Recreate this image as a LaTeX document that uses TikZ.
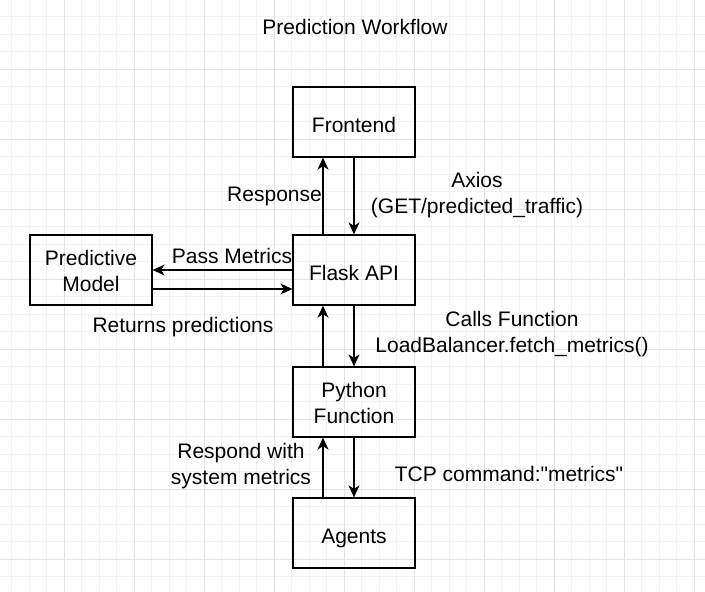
\documentclass[tikz,border=0pt]{standalone}
\usepackage{fontspec}
\setmainfont{Liberation Sans}
\usetikzlibrary{arrows.meta}

\definecolor{gridminor}{HTML}{F2F2F2}
\definecolor{gridmajor}{HTML}{E3E3E3}

\newcommand{\liftline}{\rule{0pt}{17pt}}

\tikzset{
    boxbase/.style={draw, line width=1.3pt, minimum width=122pt, minimum height=70pt,
        align=center, inner sep=0pt, font=\fontsize{21}{26}\selectfont},
    box/.style={boxbase,
        execute at begin node={\rule{0pt}{25pt}},
        execute at end node={\rule[-5pt]{0pt}{5pt}}},
    tallbox/.style={boxbase},
    lbl/.style={align=center, inner sep=0pt, font=\fontsize{21}{26}\selectfont},
    flow/.style={line width=1.3pt, -{Stealth[length=12pt,width=11pt,inset=3.5pt]}}
}

\begin{document}
\begin{tikzpicture}[x=1pt,y=-1pt]
    \useasboundingbox (0,0) rectangle (705,592);
    \fill[white] (0,0) rectangle (705,592);

    % grid
    \foreach \i in {0,...,41} {
        \draw[gridminor, line width=0.8pt] ({-6+17.5*\i},0) -- ({-6+17.5*\i},592);
    }
    \foreach \i in {0,...,34} {
        \draw[gridminor, line width=0.8pt] (0,{-1+17.5*\i}) -- (705,{-1+17.5*\i});
    }
    \foreach \i in {0,...,10} {
        \draw[gridmajor, line width=0.9pt] ({-6+70*\i},0) -- ({-6+70*\i},592);
    }
    \foreach \i in {0,...,8} {
        \draw[gridmajor, line width=0.9pt] (0,{-1+70*\i}) -- (705,{-1+70*\i});
    }

    \node[lbl] (title) at (355,27) {Prediction Workflow};

    \node[box] (front) at (354,122) {Frontend};
    \node[box] (flask) at (354,270) {Flask API};
    \node[tallbox] (pred) at (91,270) {\liftline Predictive\\Model};
    \node[tallbox] (py) at (354,402) {\liftline Python\\Function};
    \node[box] (agents) at (354,533) {Agents};

    \draw[flow] ([xshift=-31pt]flask.north) -- ([xshift=-31pt]front.south);
    \draw[flow] (front.south) -- (flask.north);
    \draw[flow] (flask.west) -- (pred.east);
    \draw[flow] ([yshift=-19pt]pred.east) -- ([yshift=-19pt]flask.west);
    \draw[flow] ([xshift=-31pt]py.north) -- ([xshift=-31pt]flask.south);
    \draw[flow] (flask.south) -- (py.north);
    \draw[flow] ([xshift=-31pt]agents.north) -- ([xshift=-31pt]py.south);
    \draw[flow] (py.south) -- (agents.north);

    \node[lbl, anchor=east] (resp) at (322,196) {Response};
    \node[lbl] (axios) at (477,195.5) {Axios\\(GET/predicted\_traffic)};
    \node[lbl] (pass) at (232,256) {Pass Metrics};
    \node[lbl] (ret) at (183,327) {Returns predictions};
    \node[lbl] (calls) at (512,334.5) {Calls Function\\LoadBalancer.fetch\_metrics()};
    \node[lbl] (respond) at (241,466) {Respond with\\system metrics};
    \node[lbl] (tcp) at (509,474) {TCP command:\textquotedbl metrics\textquotedbl};
\end{tikzpicture}
\end{document}
